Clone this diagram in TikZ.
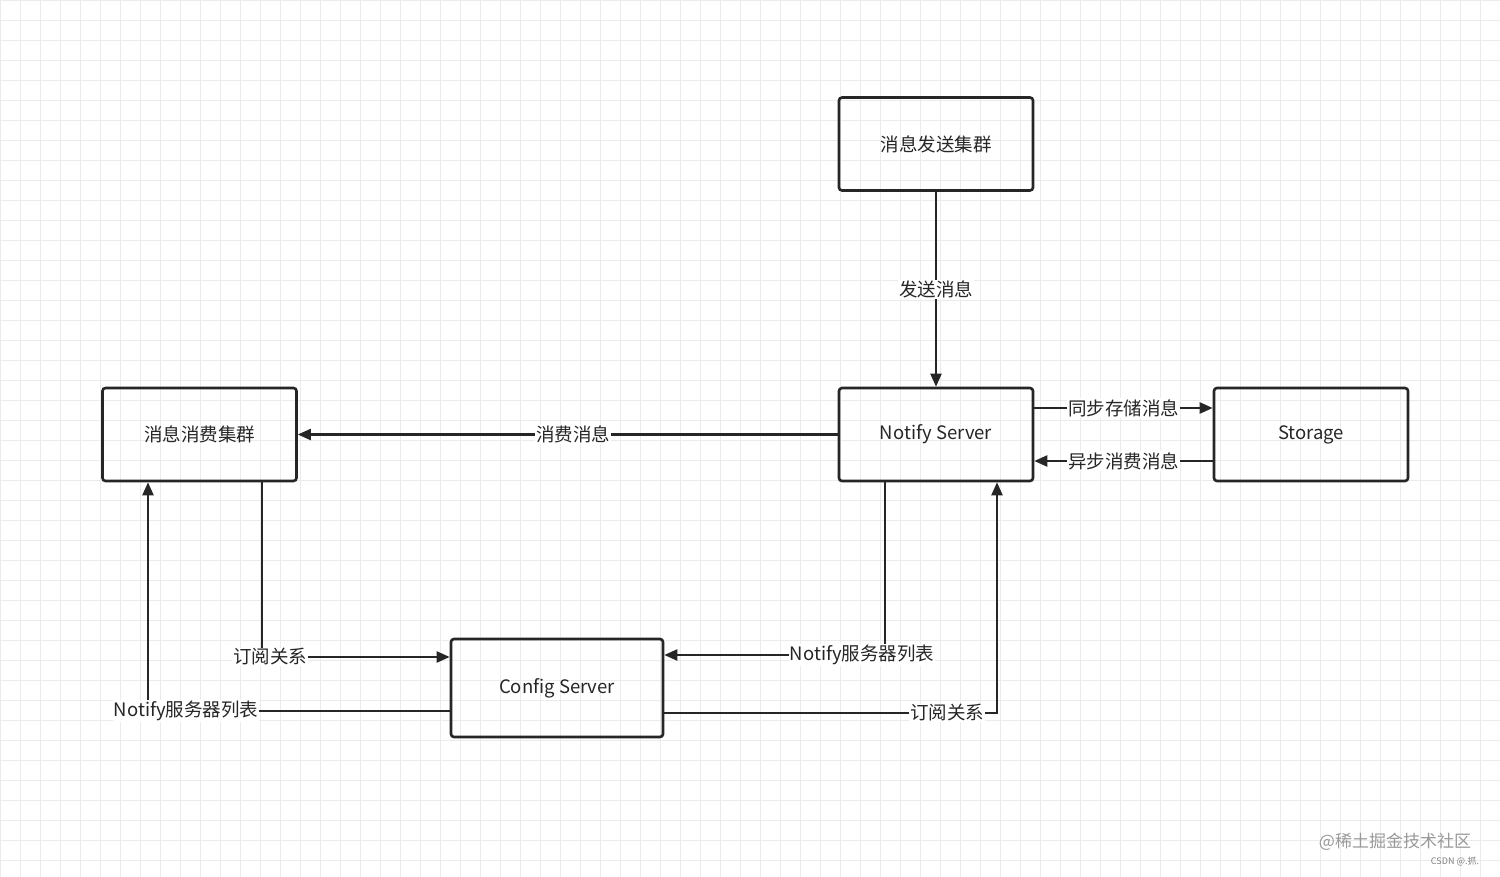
\documentclass[tikz,border=0pt]{standalone}
\usepackage{fontspec}
\setmainfont{Noto Sans CJK SC}
\usetikzlibrary{arrows.meta}
\begin{document}
\begin{tikzpicture}[x=1pt,y=-1pt,
 box/.style={draw=black!85,line width=2.6pt,rounded corners=3pt,minimum width=194pt,minimum height=93pt,inner sep=0pt,font=\fontsize{18.5}{20}\selectfont,text=black!85},
 con/.style={draw=black!85,line width=2.2pt,-{Triangle[length=13pt,width=11pt]}},
 lab/.style={fill=white,inner sep=1pt,font=\fontsize{18.5}{20}\selectfont,text=black!85}]
\useasboundingbox (0,0) rectangle (1500,877);
\fill[white] (0,0) rectangle (1500,877);
\foreach \i in {0,20,...,1500} \draw[black!8,line width=0.6pt] (\i,0) -- (\i,877);
\foreach \j in {0,20,...,877} \draw[black!8,line width=0.6pt] (0,\j) -- (1500,\j);
\node[box] (send) at (936,144) {消息发送集群};
\node[box] (ns) at (936,434.5) {Notify Server};
\node[box] (st) at (1311,434.5) {Storage};
\node[box] (cons) at (199.5,434.5) {消息消费集群};
\node[box,minimum width=212pt,minimum height=98pt] (cs) at (557,688) {Config Server};
\draw[con] (send) -- node[lab]{发送消息} (ns);
\draw[con] (ns) -- node[lab,pos=0.49]{消费消息} (cons);
\draw[con] (ns.east |- 0,408) -- node[lab]{同步存储消息} (st.west |- 0,408);
\draw[con] (st.west |- 0,461) -- node[lab]{异步消费消息} (ns.east |- 0,461);
\coordinate (a1) at (262,657);
\draw[con] (cons.south -| a1) -- (a1) -- (cs.west |- a1);
\node[lab] at (270,657) {订阅关系};
\coordinate (a2) at (148,711);
\draw[con] (cs.west |- a2) -- (a2) -- (cons.south -| a2);
\node[lab] at (186,711) {Notify服务器列表};
\coordinate (a3) at (885,655);
\draw[con] (ns.south -| a3) -- (a3) -- (cs.east |- a3);
\node[lab] at (862,655) {Notify服务器列表};
\coordinate (a4) at (997,713);
\draw[con] (cs.east |- a4) -- (a4) -- (ns.south -| a4);
\node[lab] at (947,713) {订阅关系};
\node[text=black!40,font=\fontsize{17}{18}\selectfont] (wm) at (1395,842) {@稀土掘金技术社区};
\node[text=black!50,font=\fontsize{9}{10}\selectfont] (wm2) at (1455,861) {CSDN @.抓.};
\end{tikzpicture}
\end{document}
